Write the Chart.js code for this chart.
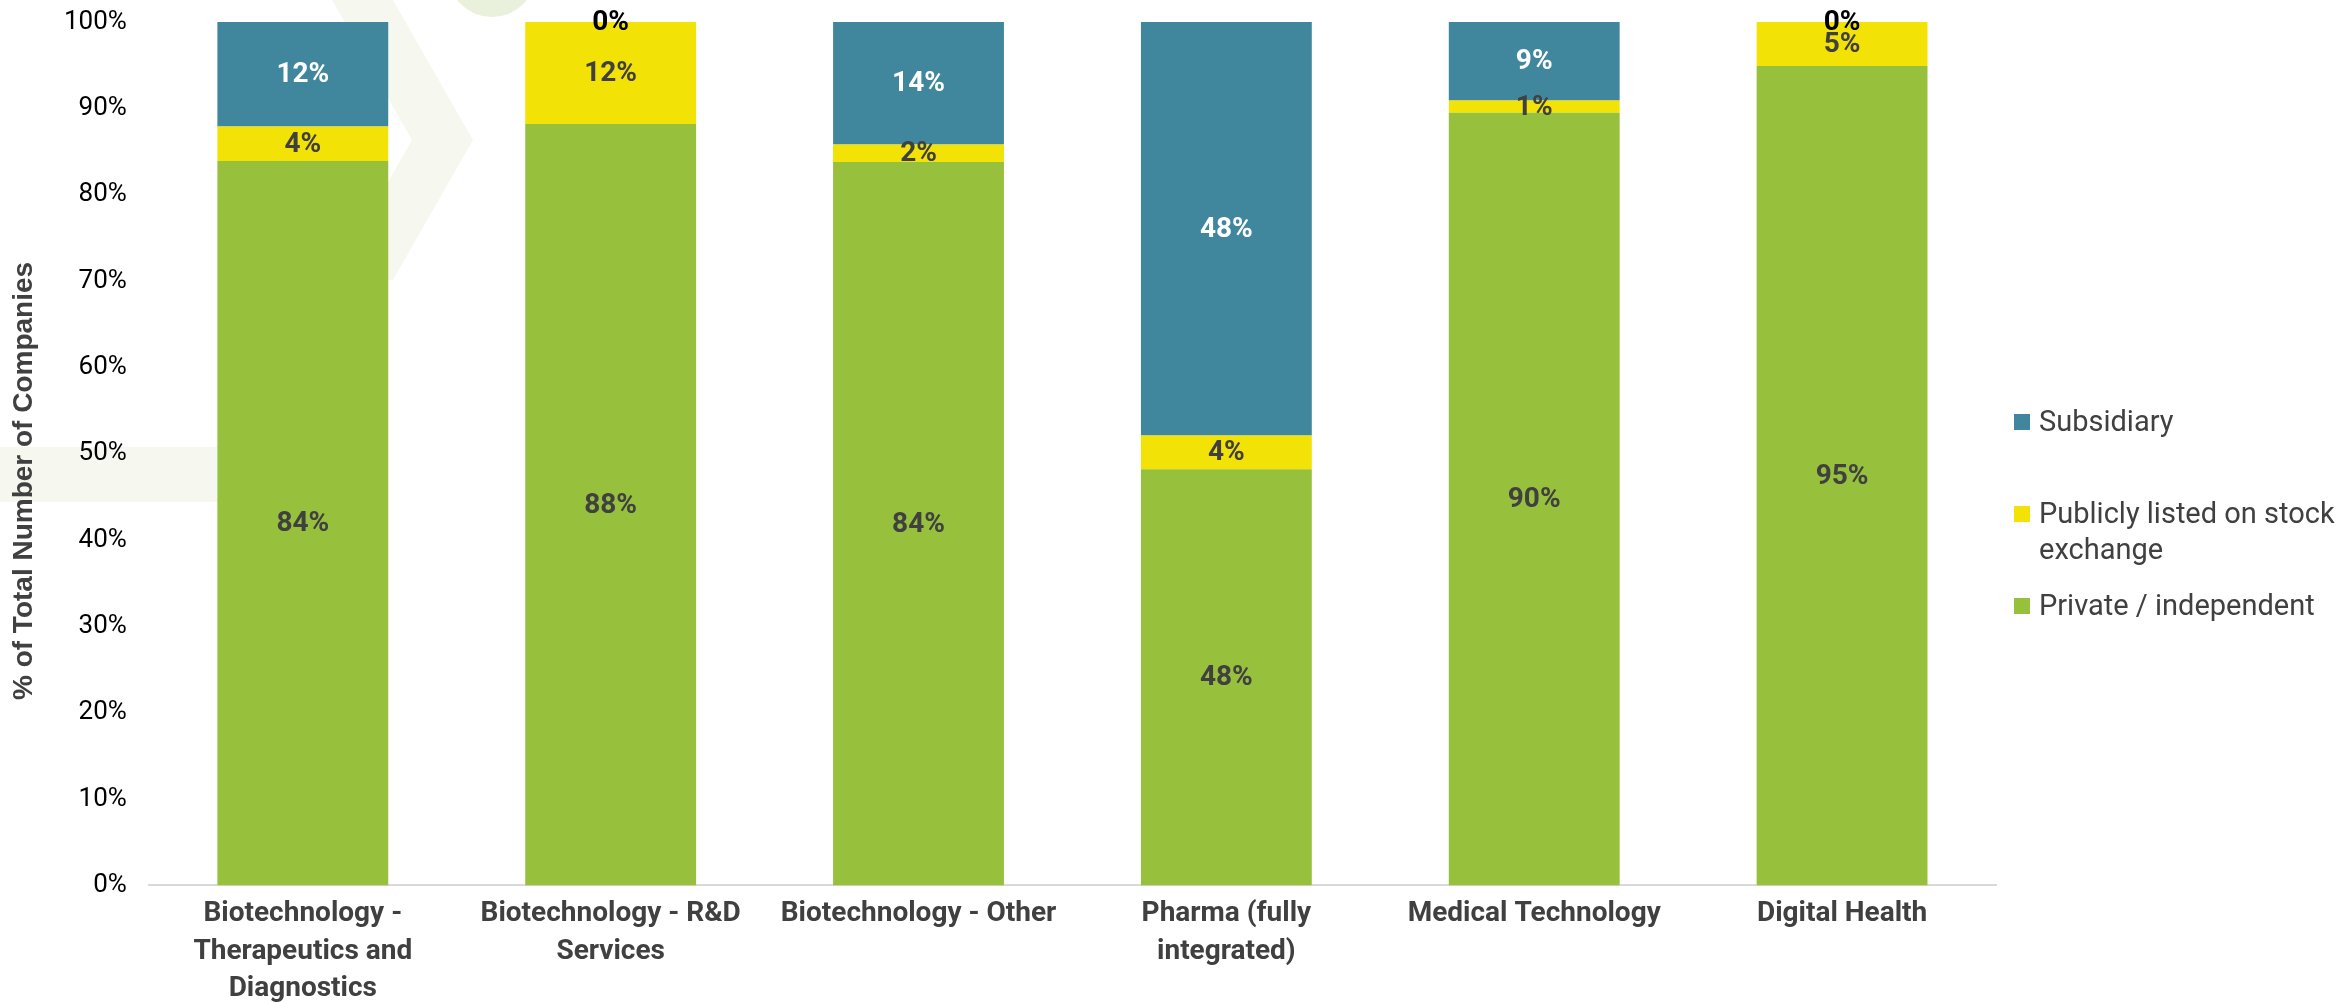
<!DOCTYPE html>
<html>
<head>
<meta charset="utf-8">
<title>Company ownership by sector</title>
<script src="https://cdn.jsdelivr.net/npm/chart.js@4.4.1/dist/chart.umd.min.js"></script>
<style>
  html, body { margin: 0; padding: 0; background: #fff; }
  #chart { display: block; }
</style>
</head>
<body>
<canvas id="chart" width="2344" height="1002"></canvas>
<script>
// --- Data ---
const CATEGORIES = [
  ['Biotechnology -', 'Therapeutics and', 'Diagnostics'],
  ['Biotechnology - R&D', 'Services'],
  'Biotechnology - Other',
  ['Pharma (fully', 'integrated)'],
  'Medical Technology',
  'Digital Health'
];
const PRIVATE_INDEPENDENT = [83.9, 88.2, 83.8, 48.2, 89.5, 94.9];
const PUBLICLY_LISTED     = [4.0, 11.8, 2.0, 3.9, 1.4, 5.1];
const SUBSIDIARY          = [12.1, 0, 14.2, 47.9, 9.1, 0];

const SERIES_NAMES = ['Private / independent', ['Publicly listed on stock', 'exchange'], 'Subsidiary'];
const SERIES_COLORS = ['#97c13d', '#f2e205', '#40879e'];
const LABEL_COLORS = ['#404040', '#404040', '#ffffff'];

// --- Faint logo watermark behind the plot ---
const watermark = {
  id: 'watermark',
  beforeDraw(chart) {
    const ctx = chart.ctx;
    ctx.save();
    ctx.fillStyle = '#f6f7ef';
    ctx.fillRect(0, 447, 300, 55);
    ctx.beginPath();
    ctx.moveTo(332, 0);
    ctx.lineTo(393, 0);
    ctx.lineTo(473, 140);
    ctx.lineTo(393, 280);
    ctx.lineTo(332, 280);
    ctx.lineTo(412, 140);
    ctx.closePath();
    ctx.fill();
    ctx.fillStyle = '#e9f1dc';
    ctx.beginPath();
    ctx.arc(492, -27, 44, 0, Math.PI * 2);
    ctx.fill();
    ctx.restore();
  }
};

// --- Value labels centred in each segment ---
const barLabels = {
  id: 'barLabels',
  afterDatasetsDraw(chart) {
    const ctx = chart.ctx;
    ctx.save();
    ctx.font = 'bold 28px Roboto';
    ctx.textAlign = 'center';
    ctx.textBaseline = 'middle';
    chart.data.datasets.forEach((ds, di) => {
      chart.getDatasetMeta(di).data.forEach((bar, i) => {
        const v = ds.data[i];
        const p = bar.getProps(['x', 'y', 'base'], true);
        ctx.fillStyle = v === 0 ? '#000000' : LABEL_COLORS[di];
        ctx.fillText(Math.round(v) + '%', p.x, (p.y + p.base) / 2 + 1);
      });
    });
    ctx.restore();
  }
};

// --- Legend on the right (top to bottom: last series first) ---
const sideLegend = {
  id: 'sideLegend',
  afterDraw(chart) {
    const ctx = chart.ctx;
    const boxX = chart.chartArea.right + 18;
    const textX = boxX + 25;
    ctx.save();
    ctx.font = '29px Roboto';
    ctx.textAlign = 'left';
    ctx.textBaseline = 'alphabetic';
    const order = chart.data.datasets.map((d, i) => i).reverse();
    order.forEach((di, k) => {
      const ds = chart.data.datasets[di];
      const cy = 422 + k * 92;
      ctx.fillStyle = ds.backgroundColor;
      ctx.fillRect(boxX, cy - 8, 16, 16);
      ctx.fillStyle = '#404040';
      const lines = Array.isArray(ds.label) ? ds.label : [ds.label];
      lines.forEach((line, j) => ctx.fillText(line, textX, cy + 9 + j * 36));
    });
    ctx.restore();
  }
};

new Chart(document.getElementById('chart').getContext('2d'), {
  type: 'bar',
  data: {
    labels: CATEGORIES,
    datasets: [PRIVATE_INDEPENDENT, PUBLICLY_LISTED, SUBSIDIARY].map((vals, i) => ({
      label: SERIES_NAMES[i],
      data: vals,
      backgroundColor: SERIES_COLORS[i],
      borderWidth: 0,
      barPercentage: 0.555,
      categoryPercentage: 1
    }))
  },
  options: {
    responsive: false,
    devicePixelRatio: 1,
    animation: false,
    layout: { padding: { left: 2, right: 348, top: 0, bottom: -16 } },
    plugins: {
      legend: { display: false },
      tooltip: { enabled: false }
    },
    scales: {
      x: {
        stacked: true,
        grid: { display: false, drawTicks: false },
        border: { display: true, color: '#d9d9d9', width: 2 },
        ticks: {
          color: '#404040',
          font: { family: 'Roboto', size: 28, weight: 'bold', lineHeight: 1.34 },
          padding: 10,
          maxRotation: 0,
          autoSkip: false
        }
      },
      y: {
        stacked: true,
        min: 0,
        max: 100,
        grid: { display: false, drawTicks: false },
        border: { display: false },
        ticks: {
          stepSize: 10,
          color: '#000000',
          // lineHeight 0 so the top tick label does not push the plot down
          font: { family: 'Roboto', size: 26, lineHeight: 0 },
          padding: 22,
          callback: v => v + '%'
        },
        title: {
          display: true,
          // trailing spaces push the visible title a little below the axis centre, as in the source
          text: '% of Total Number of Companies       ',
          color: '#404040',
          font: { family: 'Liberation Sans', size: 28, weight: 'bold', lineHeight: 1 },
          padding: { top: 8, bottom: 4 }
        }
      }
    }
  },
  plugins: [watermark, barLabels, sideLegend]
});
</script>
</body>
</html>
